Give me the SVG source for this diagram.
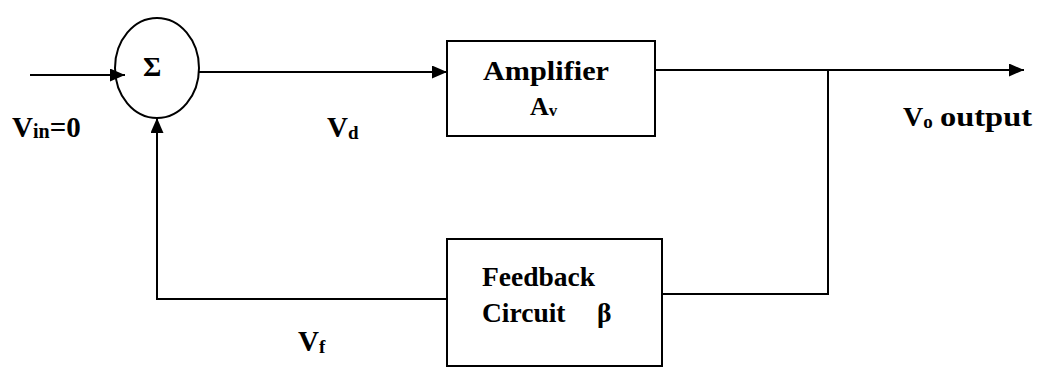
<svg xmlns="http://www.w3.org/2000/svg" width="1038" height="369" viewBox="0 0 1038 369">
<defs>
<style>
.ln{stroke:#000;stroke-width:2;fill:none}
.bx{stroke:#000;stroke-width:2;fill:#fff}
</style>
<marker id="ah" markerWidth="15" markerHeight="13" refX="15" refY="6.5" orient="auto" markerUnits="userSpaceOnUse">
<path d="M0,0 L15,6.5 L0,13 Z" fill="#000"/>
</marker>
</defs>
<rect width="1038" height="369" fill="#fff"/>
<g id="connectors">
<line class="ln" x1="30" y1="75" x2="125" y2="75" marker-end="url(#ah)"/>
<line class="ln" x1="198" y1="72" x2="447" y2="72" marker-end="url(#ah)"/>
<line class="ln" x1="655" y1="70" x2="1024" y2="70" marker-end="url(#ah)"/>
<polyline class="ln" points="828,69 828,294 662,294"/>
<polyline class="ln" points="447,299 157,299 157,118" marker-end="url(#ah)"/>
</g>
<g id="sum">
<ellipse class="ln" cx="157" cy="68" rx="42" ry="50"/>
<text x="143" y="76" font-size="28" font-weight="bold" font-family="'Liberation Serif', serif">Σ</text>
</g>
<g id="amplifier">
<rect class="bx" x="447" y="41" width="208" height="95"/>
<text x="483" y="80" font-size="27" font-weight="bold" font-family="'Liberation Serif', serif" textLength="126" lengthAdjust="spacingAndGlyphs">Amplifier</text>
<text x="530" y="115" font-size="26" font-weight="bold" font-family="'Liberation Serif', serif">A<tspan font-size="17" dy="1">v</tspan></text>
</g>
<g id="feedback">
<rect class="bx" x="447" y="239" width="215" height="127"/>
<text x="482" y="286" font-size="27.5" font-weight="bold" font-family="'Liberation Serif', serif">Feedback</text>
<text x="482" y="322" font-size="27.5" font-weight="bold" font-family="'Liberation Serif', serif">Circuit</text>
<text x="597" y="322" font-size="27.5" font-weight="bold" font-family="'Liberation Serif', serif">β</text>
</g>
<g id="labels">
<text x="12" y="137" font-size="29" font-weight="bold" font-family="'Liberation Serif', serif">V<tspan font-size="20" dy="1">in</tspan><tspan dy="-1">=0</tspan></text>
<text x="327" y="137" font-size="29" font-weight="bold" font-family="'Liberation Serif', serif">V<tspan font-size="19" dy="2">d</tspan></text>
<text x="298" y="351" font-size="29" font-weight="bold" font-family="'Liberation Serif', serif">V<tspan font-size="19" dy="2">f</tspan></text>
<text x="903" y="126" font-size="28" font-weight="bold" font-family="'Liberation Serif', serif">V<tspan font-size="19" dy="2">o</tspan></text>
<text x="940" y="126" font-size="28" font-weight="bold" font-family="'Liberation Serif', serif" textLength="92" lengthAdjust="spacingAndGlyphs">output</text>
</g>
</svg>
